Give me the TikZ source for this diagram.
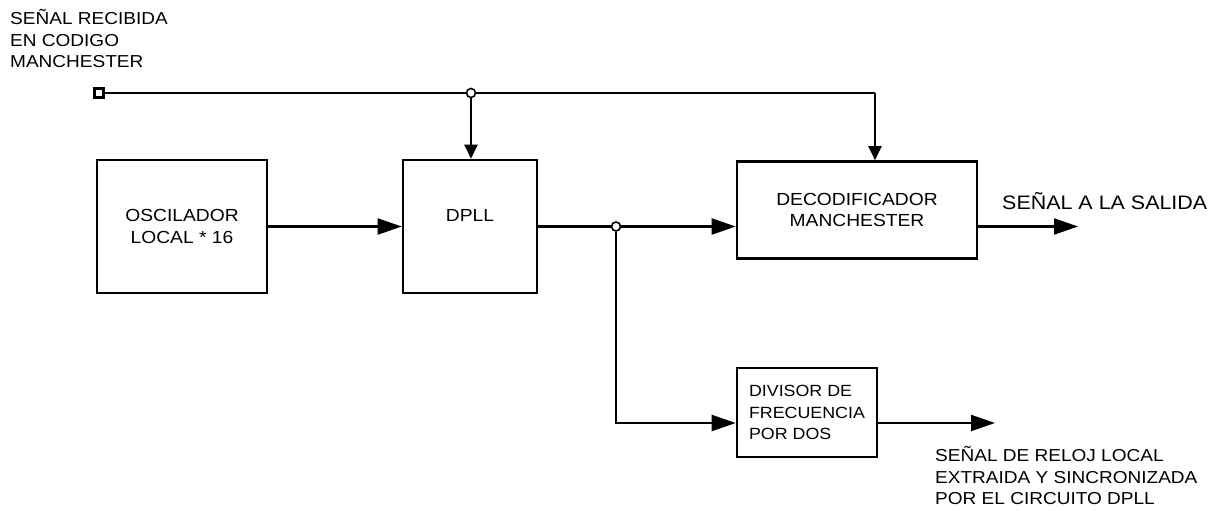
\documentclass[tikz,border=0pt]{standalone}
\usepackage{fontspec}
\setmainfont{Liberation Sans}[FakeStretch=1.1]
\usepackage{tikz}
\usetikzlibrary{arrows.meta,positioning,backgrounds}

\begin{document}
\begin{tikzpicture}[x=1pt, y=-1pt,
  blk/.style={draw, line width=2.6pt, align=center, inner sep=0pt,
              font=\fontsize{17.5}{21.7}\selectfont},
  lbl/.style={align=left, inner sep=0pt, font=\fontsize{17.3}{21.7}\selectfont},
  wire/.style={line width=2.1pt},
  arr/.style={wire, -{Triangle[length=24pt,width=16pt]}},
  darr/.style={wire, -{Triangle[length=14pt,width=13pt]}},
  dot/.style={circle, draw, fill=white, line width=1.6pt, minimum size=9pt, inner sep=0pt}
]
\useasboundingbox (0,0) rectangle (1224,511);

\node[lbl, anchor=north west] (rxlbl) at (10,9) {SEÑAL RECIBIDA\\EN CODIGO\\MANCHESTER};
\node[draw, fill=white, line width=2.2pt, minimum size=9pt, inner sep=0pt] (inp) at (99,93) {};

\node[blk, minimum width=170pt, minimum height=133pt] (osc) at (182,226.5) {OSCILADOR\\LOCAL * 16};
\node[blk, minimum width=134pt, minimum height=133pt] (dpll) at (470,226.5) {DPLL\\~};
\node[blk, minimum width=240pt, minimum height=97pt] (dec) at (857,210) {DECODIFICADOR\\MANCHESTER};
\node[blk, align=left, minimum width=140pt, minimum height=89pt,
      font=\fontsize{16.2}{21.7}\selectfont] (div) at (807,412.5) {DIVISOR DE\\FRECUENCIA\\POR DOS};

\node[dot] (j1) at (471,93) {};
\node[dot] (j2) at (616,226.5) {};
\coordinate (tc) at (875,93);
\coordinate (out1) at (1078,226.5);
\coordinate (out2) at (995,423);

\node[lbl, anchor=west, font=\fontsize{19.5}{23}\selectfont] (outlbl) at (1002,201) {SEÑAL A LA SALIDA};
\node[lbl, anchor=north west] (clklbl) at (935,446) {SEÑAL DE RELOJ LOCAL\\EXTRAIDA Y SINCRONIZADA\\POR EL CIRCUITO DPLL};

\begin{scope}[on background layer]
\draw[wire] (inp) -- (j1) -- (tc);
\draw[darr] (tc) -- (dec.north -| tc);
\draw[darr] (j1) -- (dpll.north -| j1);
\draw[arr] (osc) -- (dpll);
\draw[wire] (dpll) -- (j2);
\draw[arr] (j2) -- (dec.west |- j2);
\draw[arr] (j2) |- ([yshift=-10.5pt]div.west);
\draw[arr] (dec.east |- out1) -- (out1);
\draw[arr] (div.east |- out2) -- (out2);
\end{scope}
\end{tikzpicture}
\end{document}
